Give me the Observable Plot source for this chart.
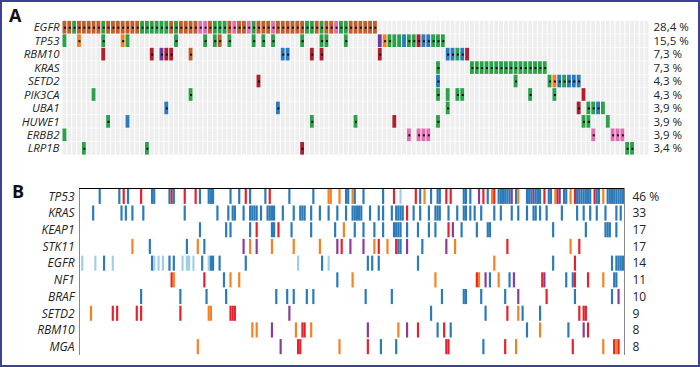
<!DOCTYPE html>
<html><head><meta charset="utf-8">
<script src="https://cdn.jsdelivr.net/npm/d3@7"></script>
<script src="https://cdn.jsdelivr.net/npm/@observablehq/plot@0.6"></script>
<style>
html,body{margin:0;padding:0;background:#fff;}
#wrap{position:relative;width:700px;height:367px;overflow:hidden;font-family:"Open Sans","Noto Sans",sans-serif;}
#frame{position:absolute;left:0;top:0;width:700px;height:367px;box-sizing:border-box;border:2px solid #3d4197;pointer-events:none;}
.pl{position:absolute;left:0;}
.lab{position:absolute;font-weight:bold;font-size:18px;line-height:18px;color:#111;font-family:"Open Sans",sans-serif;}
</style></head>
<body><div id="wrap"><div id="frame"></div></div>
<script>
// ---------- Panel A data ----------
const A_COLS = 121;
const A_genes = ["EGFR","TP53","RBM10","KRAS","SETD2","PIK3CA","UBA1","HUWE1","ERBB2","LRP1B"];
const A_pct = ["28,4 %","15,5 %","7,3 %","7,3 %","4,3 %","4,3 %","3,9 %","3,9 %","3,9 %","3,4 %"];
// EGFR: consecutive columns from 0, all with marker dot
const A_EGFR = "bbgbbbbbgbbbbb" + "bbggggggbgbbbbppbgggb" + "pbbpgbbbpbb" + "bbbbggbgbbpggbbbbbb";
const A_TP53 = ["0g","3o*","8g*","12o*","13g","23g*","29g*","31g*","32b*","34g*","39g*","41g*","43g*","49g*","53g*","54g*","58g*","65u","66o*","67g*","68g","69g","70l","71g*","72g*","73r*","74l*","75l*","76g*","77g*","78g*"];
const A_RBM10 = ["8r","18r*","20u*","21r*","22r*","26b*","45l*","46l*","51r*","53r*","65r*","79l*","80l*","81g*","82l*","83r"];
const A_KRAS = ["77g*","84g*","85g*","86g*","87g*","88g*","89g*","90g*","91g*","92g*","93g*","94g*","95g*","96g*","97g*","98g*","99g*"];
const A_SETD2 = ["40r*","77l*","93g*","100g*","101o*","102l*","103g*","104l*","105l*","106l*"];
const A_PIK3CA = ["6g","26g*","77g*","79g","81g*","82g*","96g*","101g*","107r"];
const A_UBA1 = ["21l*","44l*","79g*","106r*","108g*","109g*","110l*","111g"];
const A_HUWE1 = ["9g*","13l","51g*","60g*","68r","77g*","107g*","108g*","112g"];
const A_ERBB2 = ["0g","71p*","73p*","74p*","75p*","109p*","113p*","114p*","115p*"];
const A_LRP1B = ["4g*","17g*","49r*","116g*","117g*"];
const A_codes = ["b","g","p","o","r","u","l"];
const A_colors = ["#c25d2e","#2ba24a","#e66bb0","#f6821f","#b01f2f","#6b3b9e","#2b7bbf"];

// ---------- Panel B data ----------
const B_N = 250;
const B_genes = ["TP53","KRAS","KEAP1","STK11","EGFR","NF1","BRAF","SETD2","RBM10","MGA"];
const B_pct = ["46 %","33","17","17","14","11","10","9","8","8"];
const B_TP53 = "9B 18B 20R 22B 28R 33B 34B 41B 42R 43B 48R 53R 55B 59B 60B 61B 69B 73B 76R 78B 85B 87R 96B 107B 114O 115O 119O 122B 123B 125O 126B 130B 139B 144R 147L 154R 156B 158O 161B 164B 165B 168R 170R 176B 177B 179B 183P 185R 187B 189O 190R 192B 193B 194B 195B 196B 197B 198P 200B 201O 205B 206B 207B 208P 209B 210B 211B 213R 215B 216B 218O 219R 220P 222B 223B 225O 227R 228B 229B 230B 231B 232B 233B 234B 236R 237B 238B 240O 242B 243B 244B 245B 246B 247B 248B 249B".split(" ");
const B_KRAS = "6B 19B 21B 24B 29B 48B 63B 68B 70B 71B 75B 78B 79B 80B 81B 83B 86B 87B 88B 89B 93B 98B 101B 102B 103B 106B 110B 114B 118B 122B 125B 126B 127B 128B 129B 133B 137B 139B 143B 145B 146B 147B 148B 150R 153B 156B 160B 163B 164B 165B 169B 173B 176B 177B 179B 181B 184B 190B 193B 198B 201B 205B 208B 209B 211B 214B 221B 228B 231B 234B 237B 241B 246B 248B".split(" ");
const B_KEAP1 = "55B 67B 69B 78B 81R 88B 89B 91R 97B 106B 117B 121O 126B 130B 135B 139B 144B 145B 146B 147B 150B 155B 160B 163B 169R 171P 175B 182B 187B 188B 217B 232B 241B 242B 243B 246B".split(" ");
const B_STK11 = "24O 32B 49B 54O 57B 75P 78O 81P 88O 98O 110O 118P 120R 124P 130P 135O 137R 141O 145R 146B 147B 150P 157B 168P 172O 196R 225O 229R".split(" ");
const B_EGFR = "1L 7L 11B 15L 33B 34L 36L 38L 41B 43B 47L 49L 50L 52L 56B 59L 60B 61B 64B 76B 100L 111B 114L 132B 134B 137B 155B 190O 217B 227R 244B 246B 247B 248B 249B".split(" ");
const B_NF1 = "42R 43O 57R 66B 69O 73O 118B 125O 163O 182R 183O 186P 188B 192O 197B 199P 212R 213P 223B 226B 227R 233R 240O 245B 246B".split(" ");
const B_BRAF = "28B 46B 58B 67B 90B 95B 98B 104B 107B 131B 143B 166B 176B 177B 184B 195B 201P 214R 227B 244B 247P".split(" ");
const B_SETD2 = "5O 15R 17R 26R 28R 46R 59O 60O 69R 70R 71R 96P 161B 186B 196R 201O 203B 211B 229R 231R 232R".split(" ");
const B_RBM10 = "79O 81O 88P 99O 102R 103R 106O 132P 146O 150P 155R 164B 167R 170B 205B 211O 224B 231P 233R".split(" ");
const B_MGA = "54O 92P 100R 101R 119O 132R 138B 145B 168R 169R 185B 195R 200O 226R 240O 245R 246O 247R".split(" ");
const B_codes = ["B","L","R","O","P"];
const B_colors = ["#2b7bba","#a4cde8","#e8202a","#f58220","#8b3c96"];

// ---------- build tables ----------
const cellsA = [];
A_EGFR.split("").forEach((ch, i) => cellsA.push({c: i, r: 0, code: ch, dot: true}));
[A_TP53, A_RBM10, A_KRAS, A_SETD2, A_PIK3CA, A_UBA1, A_HUWE1, A_ERBB2, A_LRP1B].forEach((arr, k) => {
  arr.forEach(s => {
    const m = s.match(/^(\d+)([a-z])(\*?)$/);
    cellsA.push({c: +m[1], r: k + 1, code: m[2], dot: m[3] === "*"});
  });
});
const bgA = d3.cross(d3.range(A_COLS), d3.range(A_genes.length)).map(([c, r]) => ({c, r}));

const cellsB = [];
[B_TP53, B_KRAS, B_KEAP1, B_STK11, B_EGFR, B_NF1, B_BRAF, B_SETD2, B_RBM10, B_MGA].forEach((arr, r) => {
  arr.forEach(s => {
    const m = s.match(/^(\d+)([A-Z])$/);
    cellsB.push({i: +m[1], r, code: m[2]});
  });
});

const font = "'Open Sans','Noto Sans',sans-serif";

const chartA = Plot.plot({
  width: 700, height: 160,
  marginLeft: 62, marginRight: 51, marginTop: 20.5, marginBottom: 5,
  x: {domain: [0, A_COLS], axis: null},
  y: {domain: [0, A_genes.length], reverse: true, axis: null},
  color: {type: "ordinal", domain: A_codes, range: A_colors},
  style: {fontFamily: font, fontSize: "11px", color: "#222", background: "transparent"},
  marks: [
    Plot.rect(bgA, {x1: d => d.c, x2: d => d.c + 1, y1: d => d.r, y2: d => d.r + 1, fill: "#eeeeee", insetLeft: 0.5, insetRight: 0.5, insetTop: 0.3, insetBottom: 0.3}),
    Plot.rect(cellsA, {x1: d => d.c, x2: d => d.c + 1, y1: d => d.r, y2: d => d.r + 1, fill: "code", insetLeft: 0.5, insetRight: 0.5, insetTop: 0.4, insetBottom: 0.4}),
    Plot.dot(cellsA.filter(d => d.dot), {x: d => d.c + 0.5, y: d => d.r + 0.5, symbol: "square", r: 1.15, fill: "#111", stroke: null}),
    Plot.text(A_genes, {y: (d, i) => i + 0.5, text: d => d, frameAnchor: "left", textAnchor: "end", dx: -3, fontStyle: "italic", fontSize: 11.5, fill: "#222"}),
    Plot.text(A_pct, {y: (d, i) => i + 0.5, text: d => d, frameAnchor: "right", textAnchor: "start", dx: 4, fontSize: 11.5, fill: "#222"})
  ]
});
chartA.classList.add("pl");
chartA.style.top = "0px";

const chartB = Plot.plot({
  width: 700, height: 190,
  marginLeft: 79, marginRight: 76, marginTop: 18, marginBottom: 5,
  x: {domain: [0, B_N], axis: null},
  y: {domain: [0, B_genes.length], reverse: true, axis: null},
  color: {type: "ordinal", domain: B_codes, range: B_colors},
  style: {fontFamily: font, fontSize: "11.5px", color: "#222", background: "transparent"},
  marks: [
    Plot.rect(cellsB, {x1: d => d.i, x2: d => d.i + 1, y1: d => d.r, y2: d => d.r + 1, fill: "code", insetTop: 0.8, insetBottom: 0.8}),
    Plot.ruleX([0, B_N], {y1: 0, y2: B_genes.length, stroke: "#8a8a8a", strokeWidth: 1}),
    Plot.ruleY([0], {x1: 0, x2: B_N, stroke: "#000", strokeWidth: 1.2}),
    Plot.text(B_genes, {y: (d, i) => i + 0.5, text: d => d, frameAnchor: "left", textAnchor: "end", dx: -5, fontStyle: "italic", fontSize: 12, fill: "#222"}),
    Plot.text(B_pct, {y: (d, i) => i + 0.5, text: d => d, frameAnchor: "right", textAnchor: "start", dx: 8, fontSize: 12, fill: "#222"})
  ]
});
chartB.classList.add("pl");
chartB.style.top = "170px";

const wrap = document.getElementById("wrap");
wrap.insertBefore(chartA, wrap.firstChild);
wrap.insertBefore(chartB, wrap.firstChild);
const la = document.createElement("div"); la.className = "lab"; la.textContent = "A"; la.style.left = "9px"; la.style.top = "6px"; wrap.appendChild(la);
const lb = document.createElement("div"); lb.className = "lab"; lb.textContent = "B"; lb.style.left = "12px"; lb.style.top = "182px"; wrap.appendChild(lb);
</script>
</body></html>
